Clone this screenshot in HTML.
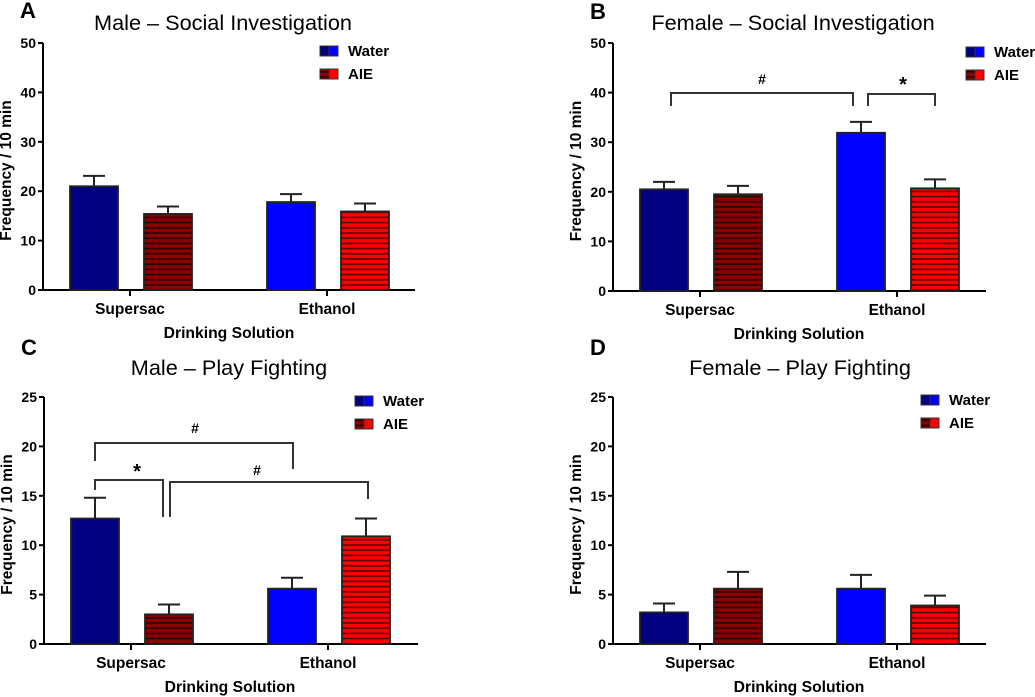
<!DOCTYPE html>
<html><head><meta charset="utf-8"><style>
body{margin:0;background:#fff}
svg{display:block;font-family:"Liberation Sans",Arial,sans-serif}
</style></head><body>
<svg id="fig" width="1035" height="697" viewBox="0 0 1035 697" xmlns="http://www.w3.org/2000/svg">
<defs>
<pattern id="hatchDark" width="6" height="5.2" patternUnits="userSpaceOnUse"><rect width="6" height="5.2" fill="#8b0000"/><rect y="3.4" width="6" height="1.6" fill="#2a0000"/></pattern>
<pattern id="hatchRed" width="6" height="5.2" patternUnits="userSpaceOnUse"><rect width="6" height="5.2" fill="#ff0000"/><rect y="3.4" width="6" height="1.6" fill="#5a0000"/></pattern>
</defs>
</svg>
<script>
const categories = ["Supersac","Ethanol"];
const aWater=[21,17.8], aAie=[15.4,15.9], aWaterErr=[23.1,19.4], aAieErr=[16.9,17.5];
const bWater=[20.5,31.9], bAie=[19.5,20.7], bWaterErr=[22,34.1], bAieErr=[21.2,22.5];
const cWater=[12.7,5.6], cAie=[3,10.9], cWaterErr=[14.8,6.7], cAieErr=[4,12.7];
const dWater=[3.2,5.6], dAie=[5.6,3.9], dWaterErr=[4.1,7], dAieErr=[7.3,4.9];
const ticks50=[0,10,20,30,40,50], ticks25=[0,5,10,15,20,25];

const NS="http://www.w3.org/2000/svg", svg=document.getElementById('fig');
function el(tag,attrs,parent,text){const e=document.createElementNS(NS,tag);for(const k in attrs)e.setAttribute(k,attrs[k]);if(text!==undefined)e.textContent=text;(parent||svg).appendChild(e);return e;}

const panels=[
 {id:'a',letter:'A',title:'Male – Social Investigation',letY:18,titleY:30,x0:43,y0:290,h:247,max:50,ticks:ticks50,water:aWater,aie:aAie,we:aWaterErr,ae:aAieErr,legX:320,legY:51,titleX:223,xEnd:415},
 {id:'b',letter:'B',title:'Female – Social Investigation',letY:19,titleY:30,x0:613,y0:291,h:248,max:50,ticks:ticks50,water:bWater,aie:bAie,we:bWaterErr,ae:bAieErr,legX:966,legY:52,titleX:793,xEnd:986},
 {id:'c',letter:'C',title:'Male – Play Fighting',letY:355,titleY:375,x0:44,y0:644,h:247,max:25,ticks:ticks25,water:cWater,aie:cAie,we:cWaterErr,ae:cAieErr,legX:355,legY:401,titleX:229,xEnd:418},
 {id:'d',letter:'D',title:'Female – Play Fighting',letY:355,titleY:375,x0:613,y0:644,h:247,max:25,ticks:ticks25,water:dWater,aie:dAie,we:dWaterErr,ae:dAieErr,legX:921,legY:400,titleX:800,xEnd:986}
];

panels.forEach(p=>{
 const g=el('g',{});
 
 
 const y=v=>p.y0-v/p.max*p.h;
 const let_=el('text',{x:p.x0-23,y:p.letY,'font-size':22,'font-weight':'bold'},g,p.letter);
 
 
 const t=el('text',{x:p.titleX,y:p.titleY,'font-size':21.7,'text-anchor':'middle'},g,p.title);
 
 
 el('line',{x1:p.x0,y1:y(p.max),x2:p.x0,y2:p.y0,stroke:'#000','stroke-width':2},g);
 el('line',{x1:p.x0-5,y1:p.y0,x2:p.xEnd,y2:p.y0,stroke:'#000','stroke-width':2},g);
 p.ticks.forEach(v=>{
  el('line',{x1:p.x0-5,y1:y(v),x2:p.x0,y2:y(v),stroke:'#000','stroke-width':2},g);
  const tl=el('text',{x:p.x0-7,y:y(v)+5,'font-size':14,'font-weight':'bold','text-anchor':'end'},g,String(v));
  
  
 });
 const yt=el('text',{transform:`translate(${p.x0-32},${p.y0-p.h/2+4}) rotate(-90)`,'font-size':15.5,'font-weight':'bold','text-anchor':'middle'},g,'Frequency / 10 min');
 
 
 const xt=el('text',{x:p.x0+186,y:p.y0+48,'font-size':15.7,'font-weight':'bold','text-anchor':'middle'},g,'Drinking Solution');
 
 
 categories.forEach((c,i)=>{
  const base=p.x0+27+i*197;
  const cx=base+60;
  el('line',{x1:cx,y1:p.y0,x2:cx,y2:p.y0+6,stroke:'#000','stroke-width':2},g);
  const cl=el('text',{x:cx,y:p.y0+24,'font-size':15.5,'font-weight':'bold','text-anchor':'middle'},g,c);
  
  
  [[p.water[i],p.we[i],i==0?'#000080':'#0000ff',0,'water'],[p.aie[i],p.ae[i],i==0?'url(#hatchDark)':'url(#hatchRed)',74,'aie']].forEach(([v,e,fill,dx,s])=>{
   const bx=base+dx, w=48, mx=bx+w/2;
   el('line',{x1:mx,y1:y(v),x2:mx,y2:y(e),stroke:'#222','stroke-width':2},g);
   el('line',{x1:mx-11,y1:y(e),x2:mx+11,y2:y(e),stroke:'#222','stroke-width':2},g);
   const r=el('rect',{x:bx,y:y(v),width:w,height:p.y0-y(v),fill:fill,stroke:'#222','stroke-width':1.8},g);
   
   
  });
 });
 [['Water','#000080','#0000ff'],['AIE','url(#hatchDark)','#ff0000']].forEach(([n,f1,f2],k)=>{
  const ly=p.legY+k*23;
  const lg=el('g',{},g);
  
  
  el('rect',{x:p.legX,y:ly-5,width:9,height:10,fill:f1,stroke:'#333','stroke-width':1},lg);
  el('rect',{x:p.legX+9,y:ly-5,width:9,height:10,fill:f2,stroke:'#333','stroke-width':1},lg);
  el('text',{x:p.legX+28,y:ly+5,'font-size':15,'font-weight':'bold'},lg,n);
 });
});

function bracket(x1,x2,yb,l1,l2,label,lx,ly,size){
 const g=el('g',{});
 
 
 el('path',{d:`M${x1} ${l1}V${yb}H${x2}V${l2}`,fill:'none',stroke:'#333','stroke-width':2},g);
 el('text',{x:lx,y:ly,'font-size':size,'font-weight':'bold','text-anchor':'middle'},g,label);
}
bracket(671,853,93,106,106,'#',762,84,14);
bracket(868,935,94,106,106,'*',903,91,20);
bracket(95,293,443,461,469,'#',195,433,14);
bracket(95,163,480,490,517,'*',137,478,20);
bracket(170,368,482,517,499,'#',257,475,14);
</script>
</body></html>
